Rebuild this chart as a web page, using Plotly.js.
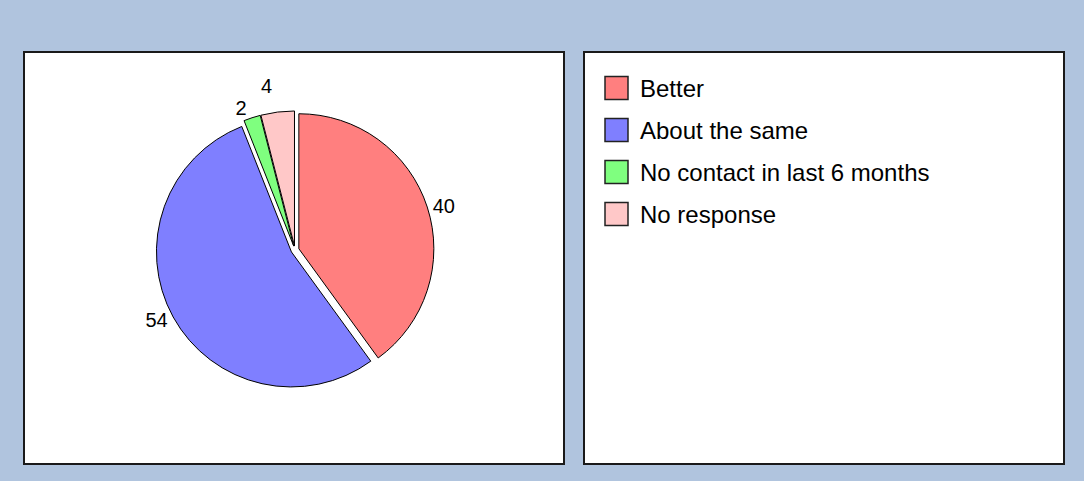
<!DOCTYPE html>
<html>
<head>
<meta charset="utf-8">
<script src="https://cdn.plot.ly/plotly-3.0.1.min.js"></script>
<style>
html,body{margin:0;padding:0;background:#B0C4DE;}
#chart{width:1084px;height:481px;}
#chart .textline{display:none;}
</style>
</head>
<body>
<div id="chart"></div>
<script>
// ---- data ----
const labels = ["Better", "About the same", "No contact in last 6 months", "No response"];
const values = [40, 54, 2, 4];

// ---- styles ----
const colors = ["#FF7F7F", "#7F7FFF", "#7FFF7F", "#FFC8C8"];
const W = 1084, H = 481;
const px = x => x / W;
const py = y => 1 - y / H;

// pie geometry (pixels)
const cx = 295, cy = 250, r = 135, pull = 0.03;
const half = r * (1 + pull);

const trace = {
  type: "pie",
  labels: labels,
  values: values,
  sort: false,
  direction: "clockwise",
  rotation: 0,
  pull: pull,
  marker: { colors: colors, line: { color: "#000000", width: 1 } },
  textinfo: "value",
  textposition: "outside",
  outsidetextfont: { family: "Liberation Sans, Arial, sans-serif", size: 20, color: "#000" },
  hoverinfo: "none",
  showlegend: false,
  domain: { x: [px(cx - half), px(cx + half)], y: [py(cy + half), py(cy - half)] }
};

const shapes = [
  { type: "rect", xref: "paper", yref: "paper", x0: px(24), x1: px(564), y0: py(52), y1: py(464),
    line: { color: "#1a1a1a", width: 2 }, fillcolor: "#FFFFFF", layer: "below" },
  { type: "rect", xref: "paper", yref: "paper", x0: px(584), x1: px(1064), y0: py(52), y1: py(464),
    line: { color: "#1a1a1a", width: 2 }, fillcolor: "#FFFFFF", layer: "below" }
];
const annotations = [];

// manual legend built from labels / colors
const legX = 605, legY0 = 88, legGap = 42, sq = 23;
labels.forEach((lab, i) => {
  const yc = legY0 + i * legGap;
  shapes.push({ type: "rect", xref: "paper", yref: "paper",
    x0: px(legX), x1: px(legX + sq), y0: py(yc + sq / 2), y1: py(yc - sq / 2),
    line: { color: "#222222", width: 1.5 }, fillcolor: colors[i] });
  annotations.push({ xref: "paper", yref: "paper", x: px(638), y: py(yc),
    xanchor: "left", yanchor: "middle", showarrow: false, text: lab,
    font: { family: "Liberation Sans, Arial, sans-serif", size: 24, color: "#000" } });
});

const layout = {
  width: W, height: H,
  margin: { l: 0, r: 0, t: 0, b: 0 },
  paper_bgcolor: "#B0C4DE",
  plot_bgcolor: "#B0C4DE",
  shapes: shapes,
  annotations: annotations,
  showlegend: false,
  hovermode: false
};

Plotly.newPlot("chart", [trace], layout, { staticPlot: true, displayModeBar: false });
</script>
</body>
</html>
